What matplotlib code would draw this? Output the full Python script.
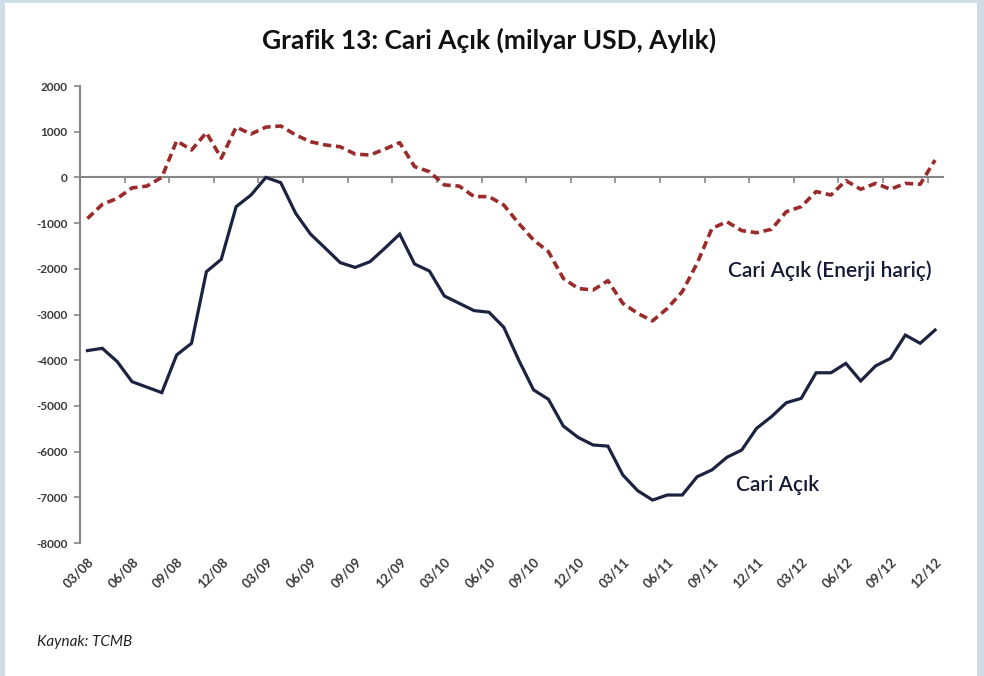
import numpy as np
import matplotlib.pyplot as plt
from matplotlib.patches import Rectangle

# aylik veriler, 03/08 - 12/12
aylar = ["03/08", "04/08", "05/08", "06/08", "07/08", "08/08", "09/08", "10/08", "11/08", "12/08",
         "01/09", "02/09", "03/09", "04/09", "05/09", "06/09", "07/09", "08/09", "09/09", "10/09",
         "11/09", "12/09", "01/10", "02/10", "03/10", "04/10", "05/10", "06/10", "07/10", "08/10",
         "09/10", "10/10", "11/10", "12/10", "01/11", "02/11", "03/11", "04/11", "05/11", "06/11",
         "07/11", "08/11", "09/11", "10/11", "11/11", "12/11", "01/12", "02/12", "03/12", "04/12",
         "05/12", "06/12", "07/12", "08/12", "09/12", "10/12", "11/12", "12/12"]

cari_acik = [-3790, -3740, -4030, -4470, -4590, -4710, -3885, -3630, -2063, -1793,
             -640, -385, 0, -115, -785, -1240, -1550, -1865, -1970, -1845,
             -1550, -1240, -1895, -2050, -2595, -2755, -2915, -2950, -3280, -3995,
             -4650, -4855, -5440, -5690, -5855, -5880, -6510, -6855, -7060, -6950,
             -6950, -6550, -6400, -6125, -5965, -5490, -5235, -4930, -4835, -4275,
             -4275, -4070, -4455, -4125, -3960, -3450, -3630, -3340]

enerji_haric = [-900, -590, -460, -230, -190, 0, 800, 600, 980, 420,
                1100, 950, 1100, 1125, 930, 780, 710, 670, 510, 490,
                620, 760, 235, 125, -165, -190, -420, -420, -605, -1005,
                -1370, -1625, -2210, -2430, -2465, -2260, -2755, -2975, -3140, -2865,
                -2500, -1880, -1115, -970, -1165, -1210, -1135, -750, -640, -310,
                -385, -70, -260, -130, -260, -130, -150, 380]

y_ticks = [2000, 1000, 0, -1000, -2000, -3000, -4000, -5000, -6000, -7000, -8000]

dar = ["Lato", "DejaVu Sans"]
gri = "#868686"

fig = plt.figure(figsize=(9.84, 6.76), dpi=100)
fig.patch.set_facecolor("#cfdde7")
# beyaz panel
fig.patches.append(Rectangle((5 / 984, 0), 972 / 984, 673 / 676, transform=fig.transFigure,
                             facecolor="white", edgecolor="none", zorder=-5))

fig.text(0.497, 0.941, "Grafik 13: Cari Açık (milyar USD, Aylık)", ha="center", va="center",
         fontsize=19, fontweight="bold", family=dar, color="#111111")
fig.text(0.038, 0.05, "Kaynak: TCMB", ha="left", va="center", fontsize=11,
         style="italic", family=dar, color="#222222")

ax = fig.add_axes([80 / 984, 1 - 543 / 676, 862.5 / 984, 457 / 676])
ax.set_facecolor("none")
x = np.arange(len(aylar))

ax.plot(x, cari_acik, color="#1b2340", lw=2.3, solid_joinstyle="miter", zorder=3)
ax.plot(x, enerji_haric, color="#9b2b2b", lw=2.6, linestyle=(0, (2.3, 1.3)), zorder=3)

ax.set_xlim(-0.5, len(aylar) - 0.5)
ax.set_ylim(-8000, 2000)

ax.set_yticks(y_ticks)
ax.set_yticklabels([str(v) for v in y_ticks], family=dar, fontweight="bold", fontsize=8.5, color="#3a3a3a")
ax.tick_params(axis="y", length=4, width=1.2, color=gri, pad=5)

ax.set_xticks(x[::3])
ax.set_xticklabels(aylar[::3], family=dar, fontweight="bold", fontsize=9.5, color="#3a3a3a")
plt.setp(ax.get_xticklabels(), rotation=45, ha="right", rotation_mode="anchor")
ax.tick_params(axis="x", length=0, pad=9)

for s in ["top", "right", "bottom"]:
    ax.spines[s].set_visible(False)
ax.spines["left"].set_color(gri)
ax.spines["left"].set_linewidth(1.5)

# sifir cizgisi ve tik isaretleri
sifir = ax.secondary_xaxis(0, transform=ax.transData)
sifir.set_xticks(np.arange(-0.5, len(aylar) - 1, 3))
sifir.tick_params(axis="x", length=4, width=1.2, color=gri, labelbottom=False)
sifir.spines["bottom"].set_color(gri)
sifir.spines["bottom"].set_linewidth(1.5)

ax.text(43.1, -2050, "Cari Açık (Enerji hariç)", fontsize=15, fontweight="semibold", family=dar,
        color="#141a33", ha="left", va="center")
ax.text(43.6, -6720, "Cari Açık", fontsize=15, fontweight="semibold", family=dar,
        color="#141a33", ha="left", va="center")

fig.savefig("out.png", dpi=100, facecolor=fig.get_facecolor())
